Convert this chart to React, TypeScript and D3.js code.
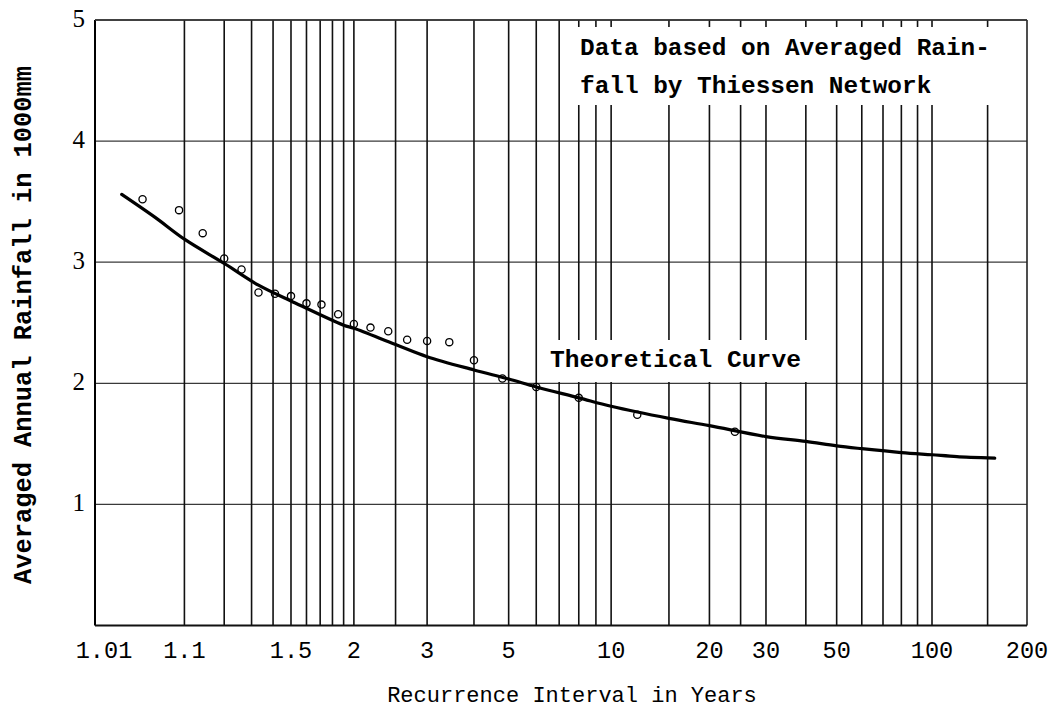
import React from 'react';
import * as d3 from 'd3';

// Observed annual rainfall (1000 mm) with their plotted recurrence intervals (years)
const recurrenceYears = [24, 12, 8, 6, 4.8, 4, 3.43, 3, 2.67, 2.4, 2.18, 2, 1.85, 1.71, 1.6, 1.5, 1.41, 1.33, 1.26, 1.2, 1.14, 1.09, 1.04];
const rainfall = [1.60, 1.74, 1.88, 1.97, 2.04, 2.19, 2.34, 2.35, 2.36, 2.43, 2.46, 2.49, 2.57, 2.65, 2.66, 2.72, 2.74, 2.75, 2.94, 3.03, 3.24, 3.43, 3.52];

// Theoretical curve
const curveYears = [1.023, 1.054, 1.1, 1.2, 1.33, 1.5, 1.9, 2, 2.5, 3, 4, 5, 6, 8, 10, 15, 20, 30, 40, 50, 60, 80, 100, 120, 158];
const curveRainfall = [3.56, 3.37, 3.19, 2.99, 2.81, 2.68, 2.48, 2.455, 2.32, 2.22, 2.11, 2.035, 1.97, 1.88, 1.81, 1.71, 1.65, 1.56, 1.52, 1.483, 1.46, 1.428, 1.41, 1.395, 1.382];

// Probability-paper grid
const gridYears = [1.1, 1.2, 1.3, 1.4, 1.5, 1.6, 1.7, 1.8, 1.9, 2, 2.5, 3, 4, 5, 6, 7, 8, 9, 10, 15, 20, 25, 30, 40, 50, 60, 70, 80, 90, 100, 150];
const xTickValues = [1.01, 1.1, 1.5, 2, 3, 5, 10, 20, 30, 50, 100, 200];
const xTickLabels = ['1.01', '1.1', '1.5', '2', '3', '5', '10', '20', '30', '50', '100', '200'];
const yTickValues = [1, 2, 3, 4, 5];

const W = 1052;
const H = 712;
const left = 95;
const right = 1027;
const top = 20;
const bottom = 625.5;

// Gumbel reduced variate of a recurrence interval
const reduced = (t: number) => -Math.log(-Math.log(1 - 1 / t));

const xLin = d3.scaleLinear().domain([reduced(1.01), reduced(200)]).range([left, right]);
const x = (t: number) => xLin(reduced(t));
const y = d3.scaleLinear().domain([0, 5]).range([bottom, top]);

const mono = '"Liberation Mono", "DejaVu Sans Mono", monospace';
const serif = '"Liberation Serif", serif';

export default function App() {
  const curvePts: [number, number][] = curveYears.map((t, i) => [x(t), y(curveRainfall[i])]);
  const line = d3.line().curve(d3.curveCatmullRom.alpha(0.5))(curvePts) || '';

  return (
    <svg width={W} height={H} style={{ position: 'absolute', left: 0, top: 0, background: '#fff' }}>
      <rect x={0} y={0} width={W} height={H} fill="#fff" />

      {/* horizontal grid */}
      {yTickValues.map((v) => (
        <line key={'h' + v} x1={left} x2={right} y1={y(v)} y2={y(v)} stroke="#3a3a3a" strokeWidth={1.3} />
      ))}

      {/* vertical grid */}
      {gridYears.map((t) => (
        <line key={'v' + t} x1={x(t)} x2={x(t)} y1={top} y2={bottom} stroke="#111" strokeWidth={1.6} />
      ))}

      {/* frame */}
      <line x1={left} x2={left} y1={top} y2={bottom} stroke="#000" strokeWidth={2} />
      <line x1={right} x2={right} y1={top} y2={bottom} stroke="#222" strokeWidth={1.6} />
      <line x1={left} x2={right} y1={top} y2={top} stroke="#333" strokeWidth={1.5} />
      <line x1={left} x2={right} y1={bottom} y2={bottom} stroke="#111" strokeWidth={1.8} />

      {/* annotation backgrounds */}
      <rect x={567} y={27} width={right - 2 - 567} height={78} fill="#fff" />
      <rect x={543} y={340} width={276} height={42} fill="#fff" />

      {/* observed points */}
      {recurrenceYears.map((t, i) => (
        <circle key={'p' + i} cx={x(t)} cy={y(rainfall[i])} r={3.6} fill="none" stroke="#000" strokeWidth={1.3} />
      ))}

      {/* theoretical curve */}
      <path d={line} fill="none" stroke="#000" strokeWidth={3.2} strokeLinejoin="round" strokeLinecap="round" />

      {/* annotations */}
      <text x={580} y={55} fontFamily={mono} fontSize={24.4} fontWeight="bold" fill="#000">Data based on Averaged Rain-</text>
      <text x={580} y={93} fontFamily={mono} fontSize={24.4} fontWeight="bold" fill="#000">fall by Thiessen Network</text>
      <text x={550} y={367} fontFamily={mono} fontSize={24.6} fontWeight="bold" fill="#000">Theoretical Curve</text>

      {/* y tick labels */}
      {yTickValues.map((v) => (
        <text key={'yt' + v} x={85} y={y(v) + 7} textAnchor="end" fontFamily={serif} fontSize={25} fill="#000">{v}</text>
      ))}

      {/* x tick labels */}
      {xTickValues.map((t, i) => (
        <text key={'xt' + t} x={i === 0 ? x(t) + 9 : x(t)} y={658} textAnchor="middle" fontFamily={mono} fontSize={23.6} fill="#000">{xTickLabels[i]}</text>
      ))}

      {/* axis titles */}
      <text x={572} y={702} textAnchor="middle" fontFamily={mono} fontSize={22} fill="#000">Recurrence Interval in Years</text>
      <text transform="translate(31,325) rotate(-90)" textAnchor="middle" fontFamily={mono} fontSize={25.4} fontWeight="bold" fill="#000">Averaged Annual Rainfall in 1000mm</text>
    </svg>
  );
}
